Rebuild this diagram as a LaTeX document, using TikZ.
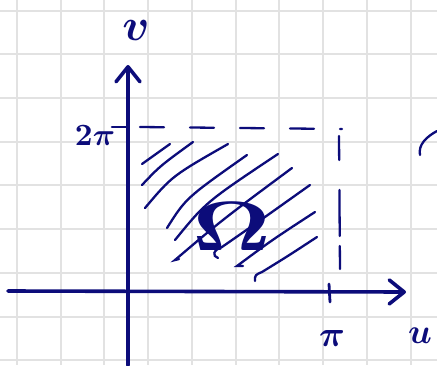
\documentclass[tikz,border=0pt]{standalone}
\usepackage{amsmath}
\usetikzlibrary{arrows.meta}
\definecolor{ink}{RGB}{12,12,122}
\definecolor{gridc}{RGB}{226,226,226}
\begin{document}
\begin{tikzpicture}[x=1pt,y=-1pt,
  gridline/.style={gridc,line width=1.3pt},
  axis/.style={ink,line width=3.6pt,line cap=round},
  axtip/.style={-{Straight Barb[length=15pt,width=24pt,line cap=round,line join=round]}},
  hatch/.style={ink,line width=2.3pt,line cap=round},
  dashline/.style={ink,line width=2.3pt,line cap=round},
  lbl/.style={ink,inner sep=0pt,font=\boldmath}]
\useasboundingbox (0,0) rectangle (437,365);
\fill[white] (0,0) rectangle (437,365);
% grid
\foreach \gx in {17,61,104,148,192,236,279,323,367,411}
  \draw[gridline] (\gx,0) -- (\gx,365);
\foreach \gy in {11,54,98,142,185,229,273,317,360}
  \draw[gridline] (0,\gy) -- (437,\gy);
% axes
\coordinate (xs) at (8,291);
\coordinate (xe) at (406,292);
\coordinate (ys) at (128,365);
\coordinate (ye) at (128,65);
\draw[axis,axtip] (xs) -- (xe);
\draw[axis,axtip] (ys) -- (ye);
% ticks
\coordinate (tpa) at (329,284);
\coordinate (tpb) at (330,302);
\draw[ink,line width=2.8pt,line cap=round] (tpa) -- (tpb);
\coordinate (t2a) at (112,127);
\coordinate (t2b) at (128,127);
\draw[ink,line width=2.6pt,line cap=round] (t2a) -- (t2b);
% dashed boundary
\coordinate (da) at (140,127);
\coordinate (db) at (342,129);
\coordinate (dc) at (339,136);
\coordinate (dd) at (340,271);
\draw[dashline,dash pattern=on 24pt off 26pt] (da) -- (db);
\draw[dashline,dash pattern=on 24pt off 30pt on 46pt off 10pt on 23pt off 20pt] (dc) -- (dd);
% hatching
\draw[hatch] (142,164) -- (170,144);
\draw[hatch] (142,185) .. controls (160,166) .. (193,142);
\draw[hatch] (145,208) .. controls (172,176) .. (228,144);
\draw[hatch] (167,228) .. controls (186,198) .. (247,155);
\draw[hatch] (175,240) .. controls (206,202) .. (278,154);
\draw[hatch] (179,259) -- (175,260) .. controls (222,220) .. (292,168);
\draw[hatch] (218,258) .. controls (212,256) and (213,250) .. (222,247) .. controls (258,222) .. (310,185);
\draw[hatch] (243,266) -- (237,266) .. controls (272,240) .. (315,212);
\draw[hatch] (255,281) .. controls (255,275) .. (262,272) .. controls (288,256) .. (317,237);
% right-edge fragment
\draw[hatch] (420,155) .. controls (418,145) and (426,137) .. (437,131);
% labels
\node[lbl,scale=4.5] (lv) at (136,30) {$v$};
\node[lbl,scale=3.5] (lu) at (420,336) {$u$};
\node[lbl,scale=3.1] (l2pi) at (95,136) {$2\pi$};
\node[lbl,scale=3.6] (lpi) at (332,338) {$\pi$};
\node[lbl,xscale=9.5,yscale=7] (lom) at (232,226) {$\Omega$};
\end{tikzpicture}
\end{document}
